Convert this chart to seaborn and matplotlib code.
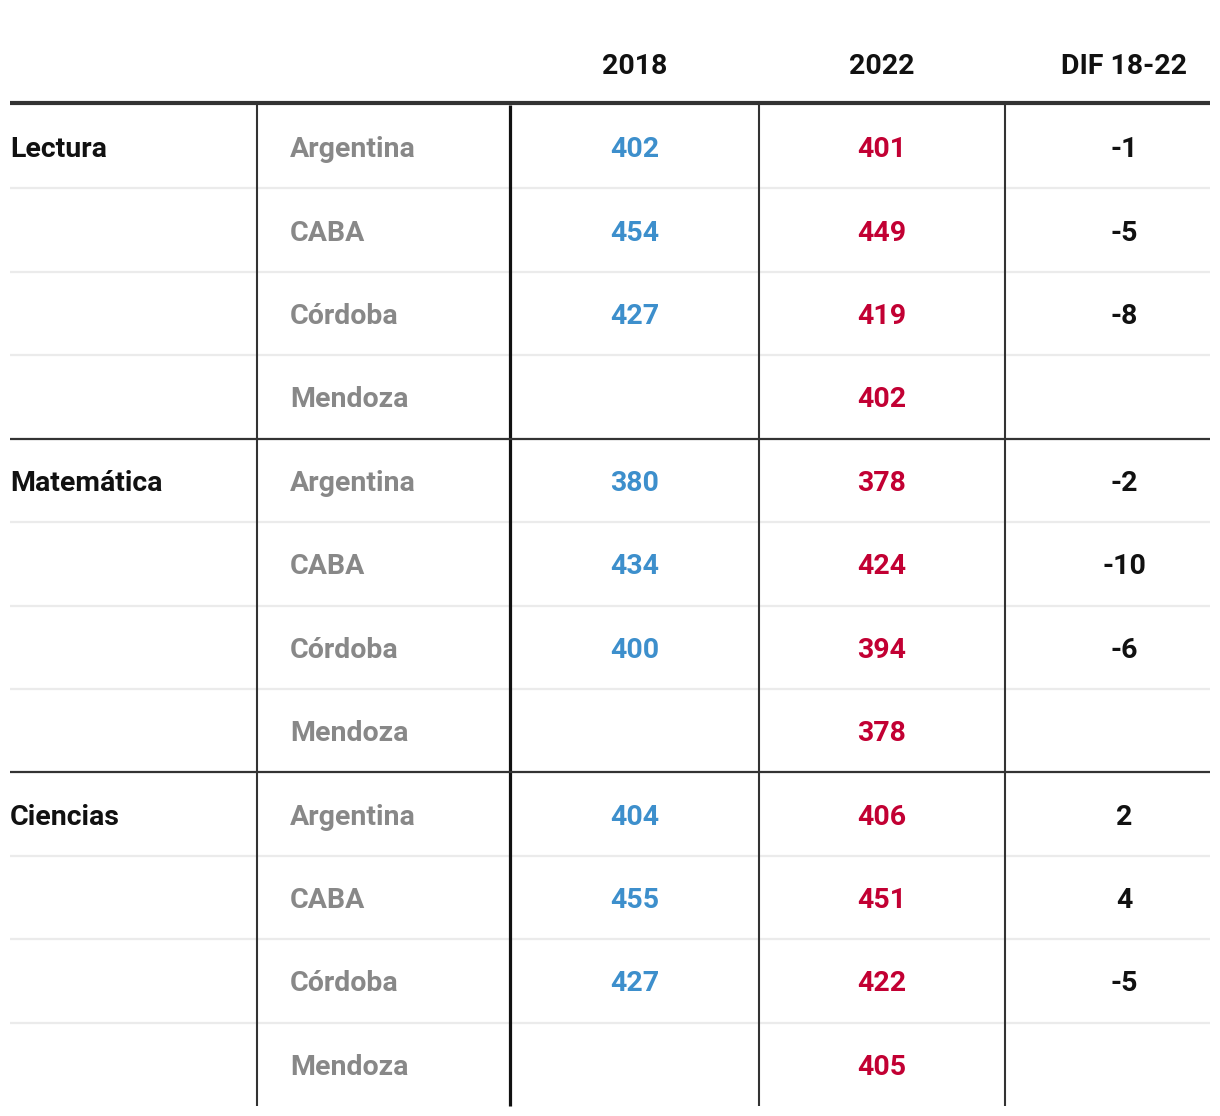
import numpy as np
import pandas as pd
import seaborn as sns
from matplotlib import pyplot as plt

# datos de la tabla (PISA)
materias = ["Lectura", "Matemática", "Ciencias"]
regiones = ["Argentina", "CABA", "Córdoba", "Mendoza"]
anio_2018 = [402, 454, 427, None, 380, 434, 400, None, 404, 455, 427, None]
anio_2022 = [401, 449, 419, 402, 378, 424, 394, 378, 406, 451, 422, 405]
dif_18_22 = [-1, -5, -8, None, -2, -10, -6, None, 2, 4, -5, None]
encabezados = ["2018", "2022", "DIF 18-22"]

df = pd.DataFrame({
    "materia": np.repeat(materias, len(regiones)),
    "region": regiones * len(materias),
    "v2018": anio_2018,
    "v2022": anio_2022,
    "dif": dif_18_22,
})

sns.set_theme(style="white")
plt.rcParams["font.family"] = ["Roboto", "DejaVu Sans"]

W, H = 1220, 1116
fig = plt.figure(figsize=(W / 100, H / 100), dpi=100)
ax = fig.add_axes([0, 0, 1, 1])
ax.set_xlim(0, W)
ax.set_ylim(H, 0)
ax.axis("off")

# geometria
top, bottom = 105, 1106
n = len(df)
row_h = (bottom - top) / n
bordes = top + row_h * np.arange(n + 1)
centros = (bordes[:-1] + bordes[1:]) / 2 + 3  # el texto va un poco mas abajo
vlines = [(257, 1.5, "#333333"), (510, 2.3, "#111111"), (759, 1.5, "#333333"), (1005, 1.5, "#333333")]
x_left, x_right = 10, 1210
x_cols = [635, 882, 1124]

fs = 20.5
azul, rojo, gris, negro = "#3d8fcc", "#c20033", "#888888", "#111111"

# encabezado
for x, t in zip(x_cols, encabezados):
    ax.text(x, 67, t, ha="center", va="center", fontsize=fs, fontweight="bold", color=negro)
ax.hlines(103, x_left, x_right, color="#333333", lw=3)

# lineas horizontales
for i in range(1, n):
    if i % len(regiones) == 0:
        ax.hlines(bordes[i], x_left, x_right, color="#333333", lw=1.6, zorder=3)
    else:
        ax.hlines(bordes[i], x_left, x_right, color="#ebebeb", lw=1.6, zorder=1)

for x, lw, c in vlines:
    ax.vlines(x, top, bottom, color=c, lw=lw, zorder=2)

# celdas
for i, row in df.iterrows():
    y = centros[i]
    if i % len(regiones) == 0:
        ax.text(x_left, y, row["materia"], ha="left", va="center", fontsize=fs,
                fontweight="bold", color=negro)
    ax.text(290, y, row["region"], ha="left", va="center", fontsize=fs,
            fontweight="bold", color=gris)
    if pd.notna(row["v2018"]):
        ax.text(x_cols[0], y, f"{int(row['v2018'])}", ha="center", va="center",
                fontsize=fs, fontweight="bold", color=azul)
    if pd.notna(row["v2022"]):
        ax.text(x_cols[1], y, f"{int(row['v2022'])}", ha="center", va="center",
                fontsize=fs, fontweight="bold", color=rojo)
    if pd.notna(row["dif"]):
        ax.text(x_cols[2], y, f"{int(row['dif'])}", ha="center", va="center",
                fontsize=fs, fontweight="bold", color=negro)

plt.savefig("out.png", dpi=100, facecolor="white")
